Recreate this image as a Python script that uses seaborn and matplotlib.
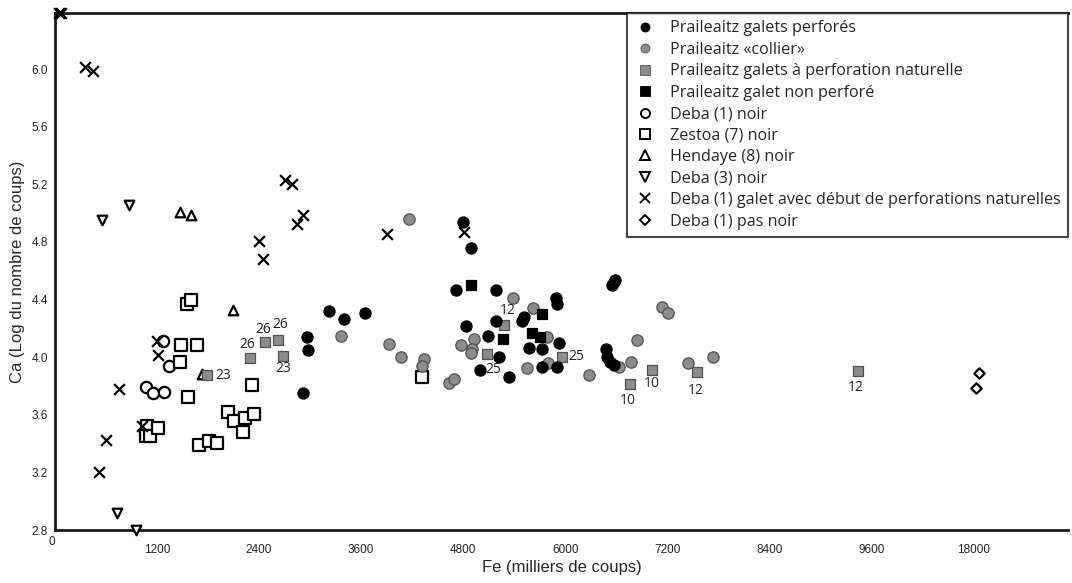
import numpy as np
import pandas as pd
import matplotlib
matplotlib.use("Agg")
import matplotlib.pyplot as plt
import seaborn as sns

# ---- valeurs (Fe en milliers de coups, Ca en log) ----
perfores_fe = [2961, 2980, 2922, 3227, 3404, 3647, 4804, 4890, 4714, 4835, 5094, 5000,
               5188, 5184, 5227, 5341, 5490, 5518, 5573, 5733, 5733, 5894, 5902, 5926,
               5902, 6475, 6490, 6529, 6569, 6549, 6569, 6588]
perfores_ca = [4.14, 4.05, 3.75, 4.32, 4.265, 4.305, 4.94, 4.76, 4.47, 4.217, 4.147, 3.91,
               4.47, 4.25, 4.003, 3.865, 4.253, 4.28, 4.064, 4.06, 3.934, 4.413, 4.367, 4.10,
               3.934, 4.06, 4.003, 3.969, 3.946, 4.50, 4.52, 4.536]

collier_fe = [3365, 3929, 4067, 4341, 4318, 4635, 4694, 4165, 4773, 4933, 4902, 4890,
              5392, 5627, 5784, 5549, 5796, 6275, 6635, 6780, 6843, 7137, 7204, 7443, 7733]
collier_ca = [4.15, 4.09, 4.003, 3.985, 3.94, 3.823, 3.847, 4.96, 4.085, 4.125, 4.06, 4.027,
              4.413, 4.34, 4.143, 3.923, 3.957, 3.876, 3.93, 3.965, 4.12, 4.347, 4.305, 3.957, 4.003]

naturelle_fe = [1792, 2294, 2471, 2624, 2678, 5086, 5286, 5961, 6765, 7020, 7549, 9439]
naturelle_ca = [3.874, 3.997, 4.105, 4.12, 4.008, 4.02, 4.221, 4.003, 3.814, 3.91, 3.897, 3.904]
naturelle_lab = ["23", "26", "26", "26", "23", "25", "12", "25", "10", "10", "12", "12"]
# centre de l'étiquette par rapport au point (pixels, y vers le haut)
naturelle_off = [(16, 0), (-3, 13), (-2, 13), (2, 15), (1, -12), (6, -15), (3, 15),
                 (14, 0), (-2, -17), (0, -13), (-1, -18), (-2, -16)]

non_perfore_fe = [4894, 5267, 5725, 5608, 5706]
non_perfore_ca = [4.50, 4.124, 4.30, 4.17, 4.138]

deba1_fe = [1275, 1345, 1067, 1157, 1282]
deba1_ca = [4.115, 3.94, 3.795, 3.75, 3.756]

zestoa_fe = [1557, 1604, 1486, 1667, 1471, 1569, 2322, 2039, 2106, 2235, 2341, 2208,
             1690, 1812, 1902, 1086, 1071, 1118, 1212, 4318]
zestoa_ca = [4.37, 4.40, 4.083, 4.083, 3.97, 3.726, 3.81, 3.62, 3.56, 3.578, 3.606, 3.48,
             3.39, 3.416, 3.406, 3.524, 3.45, 3.45, 3.506, 3.86]

hendaye_fe = [1471, 1596, 2098, 1729]
hendaye_ca = [5.01, 4.99, 4.33, 3.88]

deba3_fe = [557, 875, 725, 953]
deba3_ca = [4.95, 5.06, 2.916, 2.80]

galet_fe = [50, 75, 353, 443, 2706, 2788, 2843, 2914, 2400, 2443, 3902, 4812,
            1196, 1212, 757, 600, 514, 1020]
galet_ca = [6.39, 6.39, 6.015, 5.99, 5.23, 5.20, 4.925, 4.99, 4.81, 4.68, 4.856, 4.87,
            4.115, 4.015, 3.78, 3.425, 3.20, 3.524]

pas_noir_fe = [18497, 18245]
pas_noir_ca = [3.892, 3.786]

x_ticks = [0, 1200, 2400, 3600, 4800, 6000, 7200, 8400, 9600, 18000]
y_ticks = [2.8, 3.2, 3.6, 4.0, 4.4, 4.8, 5.2, 5.6, 6.0]

GRIS = "#8c8c8c"
GRIS_BORD = "#505050"

groupes = [
    # nom, fe, ca, marqueur, remplissage, bord, taille
    ("Deba (1) noir", deba1_fe, deba1_ca, "o", "white", "black", 66),
    ("Zestoa (7) noir", zestoa_fe, zestoa_ca, "s", "white", "black", 66),
    ("Hendaye (8) noir", hendaye_fe, hendaye_ca, "^", "white", "black", 48),
    ("Deba (3) noir", deba3_fe, deba3_ca, "v", "white", "black", 48),
    ("Deba (1) galet avec début de perforations naturelles", galet_fe, galet_ca, "x", "black", "black", 60),
    ("Deba (1) pas noir", pas_noir_fe, pas_noir_ca, "D", "white", "black", 28),
    ("Praileaitz «collier»", collier_fe, collier_ca, "o", GRIS, GRIS_BORD, 66),
    ("Praileaitz galets à perforation naturelle", naturelle_fe, naturelle_ca, "s", GRIS, GRIS_BORD, 60),
    ("Praileaitz galets perforés", perfores_fe, perfores_ca, "o", "black", "black", 64),
    ("Praileaitz galet non perforé", non_perfore_fe, non_perfore_ca, "s", "black", "black", 58),
]
ordre_legende = [8, 6, 7, 9, 0, 1, 2, 3, 4, 5]


# axe des x coupé : linéaire jusqu'à 9600 puis comprimé jusqu'à 18000
def fwd(x):
    x = np.asarray(x, dtype=float)
    return np.where(x <= 9600, x, 9600 + (x - 9600) / 7.0)


def inv(x):
    x = np.asarray(x, dtype=float)
    return np.where(x <= 9600, x, 9600 + (x - 9600) * 7.0)


sns.set_style("white")
plt.rcParams["font.family"] = ["Liberation Sans", "DejaVu Sans"]

fig = plt.figure(figsize=(10.72, 5.83), dpi=100)
ax = fig.add_axes([0.0513, 0.0909, 0.9450, 0.8868])
ax.set_xscale("function", functions=(fwd, inv))

handles = {}
for nom, fe, ca, mk, fc, ec, s in groupes:
    df = pd.DataFrame({"fe": fe, "ca": ca})
    lw = 1.6 if fc == "white" or mk == "x" else 0.9
    if mk == "x":
        sns.scatterplot(data=df, x="fe", y="ca", marker="x", color="black", s=s,
                        linewidth=1.6, ax=ax, clip_on=False, zorder=3)
    else:
        sns.scatterplot(data=df, x="fe", y="ca", marker=mk, facecolor=fc, edgecolor=ec,
                        s=s, linewidth=lw, ax=ax, clip_on=False, zorder=3)
    handles[nom] = plt.Line2D([], [], linestyle="none", marker=mk,
                              markerfacecolor=fc if mk != "x" else "black",
                              markeredgecolor=ec, markersize=6.5 if mk != "D" else 4.8,
                              markeredgewidth=1.4 if fc == "white" or mk == "x" else 0.6)

for fe, ca, lab, off in zip(naturelle_fe, naturelle_ca, naturelle_lab, naturelle_off):
    ax.annotate(lab, (fe, ca), xytext=off, textcoords="offset pixels",
                ha="center", va="center",
                fontsize=10, family=["Open Sans", "DejaVu Sans"], color="#222222")

ax.set_xlim(0, 25800)
ax.set_ylim(2.8, 6.39)
ax.set_xticks(x_ticks)
ax.set_xticklabels([str(t) for t in x_ticks])
ax.set_yticks(y_ticks)
ax.set_yticklabels([f"{t:.1f}" for t in y_ticks])
for lbl in ax.get_xticklabels():
    if lbl.get_text() == "0":
        lbl.set_horizontalalignment("right")
        lbl.set_y(0.015)
ax.tick_params(axis="both", labelsize=8.5, length=3, width=1, colors="#222222",
               direction="out", pad=2)
ax.tick_params(axis="x", pad=7)

for side in ["left", "bottom", "top"]:
    ax.spines[side].set_visible(True)
    ax.spines[side].set_color("#1a1a1a")
    ax.spines[side].set_linewidth(2)
ax.spines["right"].set_visible(False)

ax.set_xlabel("Fe (milliers de coups)", fontsize=12, labelpad=3)
ax.set_ylabel("Ca (Log du nombre de coups)", fontsize=12, labelpad=5)

noms = [groupes[i][0] for i in ordre_legende]
leg = ax.legend([handles[n] for n in noms], noms, loc="upper right",
                bbox_to_anchor=(1.0, 1.0), frameon=True, fancybox=False,
                borderaxespad=0, handlelength=1.3, handletextpad=0.9,
                borderpad=0.45, labelspacing=0.34,
                prop={"family": ["Open Sans", "DejaVu Sans"], "size": 11.6})
leg.get_frame().set_edgecolor("#1a1a1a")
leg.get_frame().set_linewidth(1.5)

fig.savefig("out.png", dpi=100)
